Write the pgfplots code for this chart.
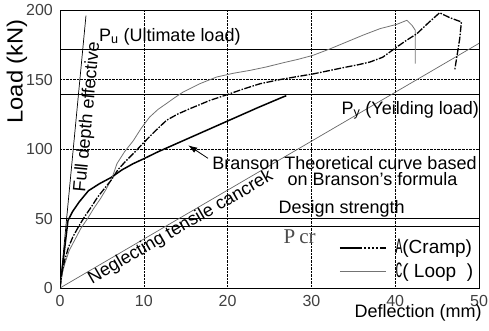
\documentclass[border=0pt]{standalone}
\usepackage{fontspec}
\setmainfont{Liberation Sans}
\newfontfamily\monofont{Liberation Mono}
\newfontfamily\seriffont{Liberation Serif}
\usepackage{graphicx}
\usepackage{pgfplots}
\pgfplotsset{compat=1.18}
\usetikzlibrary{arrows.meta}
\begin{document}
\fontsize{18bp}{21bp}\selectfont
\begin{tikzpicture}
\begin{axis}[
  at={(0,0)}, anchor=south west,
  scale only axis, width=419bp, height=278bp,
  xmin=0, xmax=50, ymin=0, ymax=200,
  xtick={0,10,...,50}, ytick={0,50,...,200},
  major tick length=0pt,
  grid=major, grid style={densely dotted, black, line width=0.5bp},
  axis line style={black, line width=0.8bp},
  tick label style={font=\fontsize{16bp}{18bp}\selectfont, text=black!75, inner sep=0pt},
  xticklabel style={yshift=-7bp},
  yticklabel style={xshift=-7bp},
  /pgf/number format/assume math mode=true,
  xlabel={Deflection (mm)},
  ylabel={\scalebox{1.08}[1]{Load (kN)}},
  xlabel style={at={(rel axis cs:1.007,-0.0575)}, anchor=north east, inner sep=0pt, font=\fontsize{18bp}{20bp}\selectfont},
  ylabel style={at={(rel axis cs:-0.103,0.779)}, anchor=center, inner sep=0pt, font=\fontsize{22bp}{24bp}\selectfont},
  clip mode=individual,
  legend style={at={(axis cs:33.3,35.8)}, anchor=north west, draw=none, fill=none, inner sep=0pt, row sep=4.5bp, column sep=8bp, font=\fontsize{19bp}{21bp}\selectfont, nodes={inner sep=1bp}},
  legend cell align=left,
  legend image code/.code={\draw[#1] (0bp,0bp) -- (46bp,0bp);},
]
% horizontal reference lines
\addplot[forget plot, black, line width=0.8bp] coordinates {(0,172) (50,172)};
\addplot[forget plot, black, line width=0.8bp] coordinates {(0,139) (50,139)};
\addplot[forget plot, black, line width=0.8bp] coordinates {(0,50) (50,50)};
\addplot[forget plot, black, line width=0.8bp] coordinates {(0,44) (50,44)};
% full depth effective
\addplot[forget plot, black, line width=0.7bp] coordinates {(0,0) (3.1,196)};
% neglecting tensile concrete
\addplot[forget plot, black!60, line width=0.7bp] coordinates {(0,0) (50,176)};
% Branson
\addplot[forget plot, black, line width=1.5bp] coordinates {
(0,0) (0.95,48.5) (1.5,55) (2.3,62) (3.4,70) (4.7,75) (6.1,79.5) (7.4,85) (8.75,89.5) (10,93) (11.7,98) (13.2,102) (14.7,106) (17.7,114) (20.7,122) (23.7,130) (26.6,137.4) (27,138.3)};
% Loop C
\addplot[forget plot, black!55, line width=0.8bp] coordinates {
(0,0) (0.25,10) (0.6,18) (1.1,27) (1.8,35) (2.5,43) (3.3,50) (4.0,57) (4.8,64) (5.5,71) (6.2,79) (6.8,89.5) (7.7,98) (8.75,106) (9.7,115) (10.7,123) (11.7,128.5) (12.7,132.7) (13.7,137) (14.7,141) (16.7,147) (18.7,151.8) (20.7,154.5) (22.7,156.6) (24.6,159) (26.6,162) (28.4,164.5) (30.2,167.4) (32.2,172) (34.2,177) (36.2,182) (38.2,186.6) (40.2,189.7) (41.4,192.6) (42.0,189) (42.4,185.4) (42.4,172) (42.4,161.4)};
% Cramp A
\addplot[forget plot, black, line width=1.3bp, dash pattern=on 7bp off 1.5bp on 1.5bp off 1.5bp] coordinates {
(0,0) (0.2,10) (0.56,20) (1.0,29) (1.55,37) (2.2,44) (2.9,51) (3.7,58) (4.5,65.5) (5.3,71.5) (6.1,77.5) (6.9,85) (7.8,91) (8.8,97) (9.9,104) (11.2,112) (12.7,120.6) (14,125) (15.5,129) (16.7,132) (17.9,135) (19.9,139) (21.8,143) (23.9,147) (26.3,150) (28.2,152) (30.2,154) (32.2,156.5) (34.2,159) (35.5,160.5) (37,162.6) (38.5,166) (40.2,173.4) (41.3,178) (42.6,183) (44,191) (45.3,198) (46.5,194.5) (47.9,191.4) (47.7,179.4) (47.4,168) (47.1,156.6)};
\addlegendimage{black, line width=1.3bp, dash pattern=on 22bp off 2bp on 2bp off 2bp on 2bp off 2bp on 2bp off 2bp on 2bp off 2bp}
\addlegendentry{\scalebox{0.6}[1.15]{\monofont A}(Cramp)}
\addlegendimage{black!55, line width=0.8bp}
\addlegendentry{\scalebox{0.6}[1.15]{\monofont C}( Loop\ \ )}
% annotations
\node[anchor=base] at (axis cs:13.1,177.5) {P\textsubscript{u} (Ultimate load)};
\node[anchor=base] at (axis cs:41.8,124.9) {P\textsubscript{y} (Yeilding load)};
\node[anchor=base] at (axis cs:33.95,85.2) {Branson Theoretical curve based};
\node[anchor=base] at (axis cs:37.3,73.9) {on Branson's formula};
\node[anchor=base] at (axis cs:33.6,53.5) {Design strength};
\node[anchor=base, font=\seriffont\fontsize{21bp}{22bp}\selectfont, text=black!70] at (axis cs:28.6,32.2) {P\hspace{4bp}cr};
\node[anchor=base, rotate=30] at (axis cs:14.68,40.5) {Neglecting tensile cancrek};
\node[anchor=base, rotate=84.6] at (axis cs:3.85,122.4) {Full depth effective};
\draw[-{Latex[length=9bp,width=6bp]}, line width=0.8bp] (axis cs:17.66,93.3) -- (axis cs:15.3,102.7);
\end{axis}
\pgfresetboundingbox
\path[use as bounding box] (-60bp,-43bp) rectangle (429bp,288bp);
\end{tikzpicture}
\end{document}
